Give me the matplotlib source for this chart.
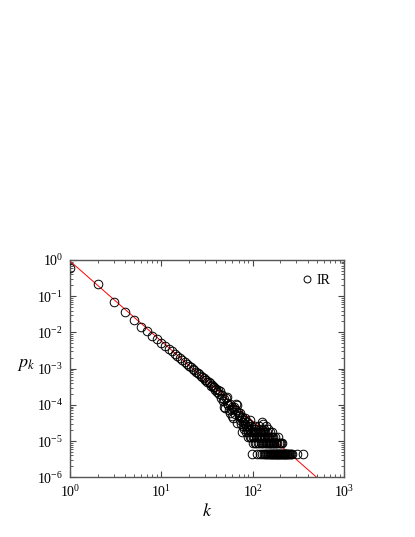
import numpy as np
import matplotlib
matplotlib.use("Agg")
import matplotlib.pyplot as plt
from matplotlib.ticker import LogLocator, NullFormatter

plt.rcParams['font.family'] = ['Liberation Serif', 'DejaVu Serif']
plt.rcParams['mathtext.fontset'] = 'stix'

# ---- data ----
# degrees 1..70: one probability per degree
k_head = list(range(1, 71))
p_head = [0.61, 0.22, 0.068, 0.037, 0.022, 0.0145, 0.0108, 0.0082, 0.0064, 0.0050,
          0.0041, 0.0035, 0.0030, 0.0026, 0.0022, 0.00195, 0.00172, 0.00150, 0.00134, 0.00120,
          0.00108, 0.00098, 0.00090, 0.00082, 0.00078, 0.00070, 0.00064, 0.00058, 0.00054, 0.00049,
          5.0e-4, 4.17e-4, 4.37e-4, 3.98e-4, 3.39e-4, 3.55e-4, 3.02e-4, 3.16e-4, 2.51e-4, 2.82e-4,
          2.24e-4, 2.63e-4, 2.0e-4, 2.4e-4, 1.58e-4, 1.9e-4, 1.26e-4, 1.41e-4, 8.9e-5, 8.1e-5,
          1.58e-4, 1.12e-4, 1.66e-4, 1.0e-4, 7.1e-5, 5.9e-5, 1.05e-4, 7.9e-5, 8.9e-5, 5.0e-5,
          4.4e-5, 7.6e-5, 8.9e-5, 5.6e-5, 7.1e-5, 1.05e-4, 1.0e-4, 3.2e-5, 6.3e-5, 5.0e-5]

# tail: degree and number of nodes with that degree
k_tail = [71, 72, 73, 74, 75, 76, 77, 78, 79, 80, 81, 82, 83, 84, 85, 86, 87, 88, 89, 90,
          91, 92, 93, 94, 95, 96, 97, 98, 99, 100,
          101, 102, 103, 104, 105, 106, 107, 108, 109, 110, 111, 112, 113, 114, 115, 116, 117, 118, 119, 120,
          121, 122, 123, 124, 125, 126, 127, 128, 129, 130, 131, 132, 133, 134, 135, 136, 137, 138, 139, 140,
          141, 142, 143, 144, 145, 146, 147, 148, 149, 150, 151, 152, 153, 154, 155, 156, 157, 158, 159, 160,
          161, 162, 163, 164, 165, 166, 168, 169, 170, 171, 173, 174, 175, 177, 178, 180, 182, 183, 185, 186,
          188, 190, 191, 193, 195, 197, 198, 200, 203, 205, 207, 210, 212, 215, 218, 221, 225, 228, 232, 236,
          240, 245, 250, 256, 262, 270, 303, 359]
n_tail = [12, 9, 14, 7, 10, 4, 11, 8, 6, 9, 5, 7, 10, 6, 4, 5, 8, 3, 6, 4,
          7, 5, 3, 9, 4, 6, 3, 1, 5, 4,
          3, 2, 5, 3, 4, 2, 6, 3, 4, 2, 1, 3, 5, 2, 4, 3, 2, 6, 3, 1,
          4, 2, 3, 5, 1, 8, 2, 3, 4, 7, 2, 1, 3, 5, 2, 4, 1, 3, 2, 6,
          1, 3, 2, 4, 1, 2, 3, 1, 5, 2, 1, 3, 2, 1, 4, 2, 1, 3, 1, 2,
          4, 1, 2, 3, 1, 2, 1, 3, 2, 1, 2, 1, 3, 1, 2, 1, 2, 1, 1, 2,
          1, 3, 1, 2, 1, 1, 2, 1, 1, 2, 1, 2, 1, 1, 1, 1, 1, 1, 1, 1,
          1, 1, 1, 1, 1, 1, 1, 1]
N_NODES = 232000

# fitted power law p_k = A * k^-gamma
FIT_A = 0.93
FIT_GAMMA = 2.21

k_all = np.array(k_head + k_tail, dtype=float)
p_all = np.array(p_head + [n / N_NODES for n in n_tail])

fig = plt.figure(figsize=(4.15, 5.37), dpi=100)
ax = fig.add_axes([0.1687, 0.1112, 0.6602, 0.4047])

kf = np.logspace(0, 3, 200)
ax.plot(kf, FIT_A * kf ** (-FIT_GAMMA), color='red', lw=0.7, zorder=2)
ax.plot(k_all, p_all, linestyle='none', marker='o', ms=6.2, mfc='none',
        mec='black', mew=0.7, label='IR', zorder=3)

ax.set_xscale('log')
ax.set_yscale('log')
ax.set_xlim(1, 1000)
ax.set_ylim(1e-6, 1)

ax.xaxis.set_major_locator(LogLocator(base=10, numticks=10))
ax.yaxis.set_major_locator(LogLocator(base=10, numticks=10))
ax.xaxis.set_minor_locator(LogLocator(base=10, subs=np.arange(2, 10), numticks=20))
ax.yaxis.set_minor_locator(LogLocator(base=10, subs=np.arange(2, 10), numticks=20))
ax.xaxis.set_minor_formatter(NullFormatter())
ax.yaxis.set_minor_formatter(NullFormatter())

ax.tick_params(which='both', direction='in', top=True, right=True,
               labelsize=10, color='#444444')
ax.tick_params(which='major', length=4, width=0.8, pad=5)
ax.tick_params(which='minor', length=2, width=0.6)
for s in ax.spines.values():
    s.set_linewidth(1.0)
    s.set_color('#555555')

ax.set_xlabel(r'$k$', fontsize=13, labelpad=2)
ax.set_ylabel(r'$p_k$', fontsize=13, rotation=0)
ax.yaxis.set_label_coords(-0.16, 0.48)

ax.legend(loc='upper right', frameon=False, fontsize=10, handletextpad=0.2,
          markerscale=0.8, borderaxespad=0.6, handlelength=1.0)

fig.savefig('out.png', dpi=100)
